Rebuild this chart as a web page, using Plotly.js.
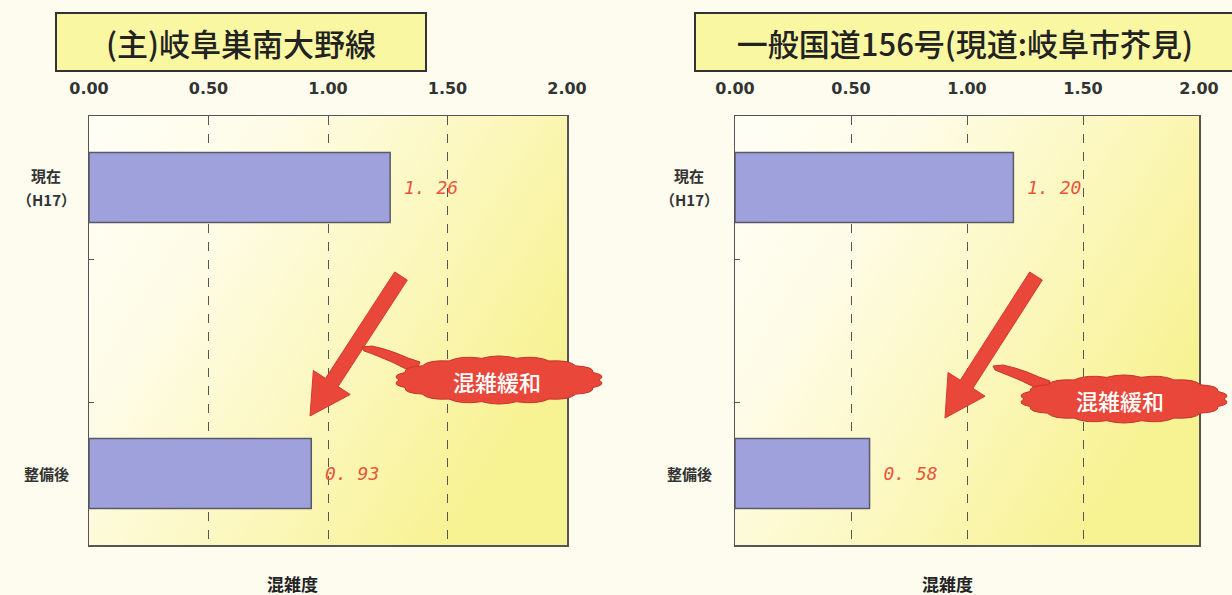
<!DOCTYPE html>
<html><head><meta charset="utf-8">
<script src="https://cdn.plot.ly/plotly-3.0.1.min.js"></script>
<style>html,body{margin:0;padding:0;background:#fdfcef;}#chart{width:1232px;height:595px;}</style>
</head><body><div id="chart"></div>
<script>
// ---- data ----
const categories = ['現在<br>（H17）', '', '整備後'];
const categoryPos = [0, 1, 2];
const titleA = '(主)岐阜巣南大野線';
const titleB = '一般国道156号(現道:岐阜市芥見)';
const valuesA = [1.26, null, 0.93];
const valuesB = [1.20, null, 0.58];
const labelsA = ['1. 26', '', '0. 93'];
const labelsB = ['1. 20', '', '0. 58'];
const xTickVals = [0, 0.5, 1, 1.5, 2];
const xTickText = ['0.00', '0.50', '1.00', '1.50', '2.00'];
const axisTitle = '混雑度';
const calloutText = '混雑緩和';

// ---- geometry helpers (page pixels -> paper) ----
const W = 1232, H = 595, mT = 116, mB = 50;
const PH = H - mT - mB;
const px = p => p / W;
const py = p => (H - mB - p) / PH;

function arrowPath(x1, y1, x2, y2, sw, hw, hl) {
  const dx = x2 - x1, dy = y2 - y1, L = Math.hypot(dx, dy);
  const ux = dx / L, uy = dy / L, nx = -uy, ny = ux;
  const bx = x2 - ux * hl, by = y2 - uy * hl;
  const pts = [
    [x1 + nx * sw / 2, y1 + ny * sw / 2],
    [bx + nx * sw / 2, by + ny * sw / 2],
    [bx + nx * hw / 2, by + ny * hw / 2],
    [x2, y2],
    [bx - nx * hw / 2, by - ny * hw / 2],
    [bx - nx * sw / 2, by - ny * sw / 2],
    [x1 - nx * sw / 2, y1 - ny * sw / 2]
  ];
  return 'M' + pts.map(p => px(p[0]) + ',' + py(p[1])).join('L') + 'Z';
}
function cloudPath(cx, cy, rx, ry, n, f) {
  let d = '';
  for (let i = 0; i <= n; i++) {
    const a = 2 * Math.PI * i / n;
    const x = cx + rx * Math.cos(a), y = cy + ry * Math.sin(a);
    if (i === 0) { d += 'M' + px(x) + ',' + py(y); continue; }
    const am = 2 * Math.PI * (i - 0.5) / n;
    const qx = cx + rx * f * Math.cos(am), qy = cy + ry * (f + 0.1) * Math.sin(am);
    d += 'Q' + px(qx) + ',' + py(qy) + ' ' + px(x) + ',' + py(y);
  }
  return d + 'Z';
}
function polyPath(pts) {
  return 'M' + pts.map(p => px(p[0]) + ',' + py(p[1])).join('L') + 'Z';
}

const red = '#e8473a';
const edge = '#c9352b';
const shapes = [
  {type: 'path', xref: 'paper', yref: 'paper', path: arrowPath(401, 276, 310, 416, 15, 44, 40), fillcolor: red, line: {color: '#d63a2e', width: 1}},
  {type: 'path', xref: 'paper', yref: 'paper', path: arrowPath(1036, 276, 945, 418, 15, 44, 40), fillcolor: red, line: {color: '#d63a2e', width: 1}},
  {type: 'path', xref: 'paper', yref: 'paper', path: polyPath([[362,347],[372,346],[384,349],[396,353],[408,358],[420,362],[416,372],[404,368],[392,362],[380,357],[370,353],[364,351]]), fillcolor: red, line: {color: edge, width: 1}},
  {type: 'path', xref: 'paper', yref: 'paper', path: cloudPath(499, 380, 100, 22, 18, 1.1), fillcolor: red, line: {color: edge, width: 1}},
  {type: 'path', xref: 'paper', yref: 'paper', path: polyPath([[993,366],[1003,365],[1015,368],[1027,372],[1039,377],[1050,381],[1046,392],[1034,387],[1022,381],[1010,376],[1000,372],[995,370]]), fillcolor: red, line: {color: edge, width: 1}},
  {type: 'path', xref: 'paper', yref: 'paper', path: cloudPath(1124, 399, 100, 22, 18, 1.1), fillcolor: red, line: {color: edge, width: 1}}
];

const svg = '<svg xmlns="http://www.w3.org/2000/svg" width="400" height="400" preserveAspectRatio="none" viewBox="0 0 400 400">' +
  '<defs><linearGradient id="g" x1="0" y1="0" x2="1" y2="0.55">' +
  '<stop offset="0" stop-color="#fffef6"/><stop offset="0.3" stop-color="#fefce8"/>' +
  '<stop offset="0.6" stop-color="#fcf8c4"/><stop offset="1" stop-color="#f7f292"/></linearGradient></defs>' +
  '<rect width="400" height="400" fill="url(#g)"/></svg>';
const bgSrc = 'data:image/svg+xml;charset=utf-8,' + encodeURIComponent(svg);
const bgImg = (xr, yr) => ({source: bgSrc, xref: xr + ' domain', yref: yr + ' domain', x: 0, y: 1, sizex: 1, sizey: 1, sizing: 'stretch', xanchor: 'left', yanchor: 'top', layer: 'below'});

const valueFont = {family: 'DejaVu Sans Mono', size: 18, color: '#ea553a', style: 'italic'};
function barTrace(vals, labels, xa, ya) {
  return {
    type: 'bar', orientation: 'h', x: vals, y: categoryPos, xaxis: xa, yaxis: ya,
    width: 0.49, marker: {color: '#9ea1dc', line: {color: '#5a5a66', width: 1.5}},
    text: labels, texttemplate: '\u2009%{text}', textposition: 'outside', cliponaxis: false,
    constraintext: 'none', textfont: valueFont, hoverinfo: 'skip', showlegend: false
  };
}

const xAxisBase = {
  range: [0, 2], side: 'top', tickmode: 'array', tickvals: xTickVals, ticktext: xTickText,
  showgrid: true, gridcolor: '#555', griddash: 'dash', gridwidth: 1, zeroline: false,
  showline: true, mirror: true, linecolor: '#555', linewidth: 1.5, ticks: '',
  ticklabelstandoff: 14, tickfont: {family: 'DejaVu Sans', size: 16, color: '#333', weight: 700}, fixedrange: true
};
const yAxisBase = {
  range: [2.5, -0.5], tickmode: 'array', tickvals: [], showticklabels: false,
  showgrid: false, zeroline: false, showline: true, mirror: true, linecolor: '#555', linewidth: 1.5,
  ticks: '',
  minor: {tickmode: 'array', tickvals: [0.5, 1.5], ticks: 'inside', ticklen: 5, tickcolor: '#555', showgrid: false},
  fixedrange: true
};

const titleBox = (text, xc, w) => ({
  text: text, xref: 'paper', yref: 'paper', x: px(xc), y: py(42), xanchor: 'center', yanchor: 'middle',
  showarrow: false, width: w, height: 54, bgcolor: '#faf7a2', bordercolor: '#333', borderwidth: 2,
  font: {family: 'Noto Sans CJK JP', size: 31, color: '#222', weight: 500}
});
const annText = (text, x, y, font) => ({text: text, xref: 'paper', yref: 'paper', x: px(x), y: py(y), xanchor: 'center', yanchor: 'middle', showarrow: false, font: font});
const calloutFont = {family: 'Noto Sans CJK JP', size: 22, color: '#ffffff', weight: 500};
const axisTitleFont = {family: 'Noto Sans CJK JP', size: 17, color: '#222', weight: 700};
const catFont = {family: 'Noto Sans CJK JP', size: 15, color: '#333', weight: 700};

// category labels: each line of a label is its own annotation so lines never overlap
const catAnn = (ya, xc) => {
  const out = [];
  categories.forEach((c, i) => {
    if (!c) return;
    const lines = c.split('<br>');
    const step = 24;
    lines.forEach((ln, k) => {
      out.push({
        text: ln, xref: 'paper', yref: ya, x: px(xc), y: categoryPos[i], xanchor: 'center', yanchor: 'middle',
        yshift: ((lines.length - 1) / 2 - k) * step, borderpad: 0, showarrow: false, font: catFont
      });
    });
  });
  return out;
};

const layout = {
  width: W, height: H, margin: {l: 0, r: 0, t: mT, b: mB},
  paper_bgcolor: '#fdfcef', plot_bgcolor: 'rgba(0,0,0,0)', bargap: 0.5, showlegend: false,
  xaxis: Object.assign({}, xAxisBase, {domain: [px(89), px(567)], anchor: 'y'}),
  yaxis: Object.assign({}, yAxisBase, {domain: [0, 1], anchor: 'x'}),
  xaxis2: Object.assign({}, xAxisBase, {domain: [px(735), px(1199)], anchor: 'y2'}),
  yaxis2: Object.assign({}, yAxisBase, {domain: [0, 1], anchor: 'x2'}),
  images: [bgImg('x', 'y'), bgImg('x2', 'y2')],
  shapes: shapes,
  annotations: [
    titleBox(titleA, 241, 366),
    titleBox(titleB, 965, 536),
    annText(axisTitle, 292, 583, axisTitleFont),
    annText(axisTitle, 947, 583, axisTitleFont),
    annText(calloutText, 497, 381, calloutFont),
    annText(calloutText, 1120, 400, calloutFont)
  ].concat(catAnn('y', 46), catAnn('y2', 689))
};

Plotly.newPlot('chart', [barTrace(valuesA, labelsA, 'x', 'y'), barTrace(valuesB, labelsB, 'x2', 'y2')], layout, {staticPlot: true, displayModeBar: false});
</script></body></html>
